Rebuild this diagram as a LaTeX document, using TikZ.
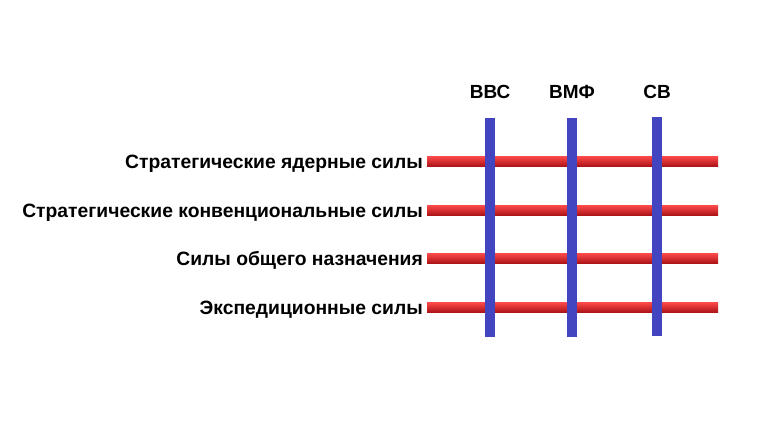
\documentclass[tikz,border=0pt]{standalone}
\usepackage{fontspec}
\setmainfont{Liberation Sans}
\usepackage{tikz}
\definecolor{barred}{RGB}{245,45,50}
\definecolor{barredlight}{RGB}{255,75,75}
\definecolor{barreddark}{RGB}{175,20,25}
\definecolor{barblue}{RGB}{66,68,192}
\newcommand{\redbar}[1]{\shade[top color=barredlight, middle color=barred, bottom color=barreddark] ( 427 , #1-5 ) rectangle ( 718 , #1+5 );}
\newcommand{\bluebar}[3]{\fill[barblue] ( #1-5 , #2 ) rectangle ( #1+5 , #3 );}

\begin{document}
\begin{tikzpicture}[x=1pt, y=-1pt, font=\bfseries]
        \useasboundingbox (0,0) rectangle (770,432);
        % rows
        \redbar{161}
        \redbar{210}
        \redbar{258}
        \redbar{307}
        % columns
        \bluebar{490}{118}{337}
        \bluebar{572}{118}{337}
        \bluebar{657}{117}{336}
        % column titles
        \node[font=\fontsize{19}{21}\selectfont\bfseries] (vvs) at (490,92) {ВВС};
        \node[font=\fontsize{19}{21}\selectfont\bfseries] (vmf) at (572,92) {ВМФ};
        \node[font=\fontsize{19}{21}\selectfont\bfseries] (sv) at (657,92) {СВ};
        % row titles
        \node[anchor=base east, inner sep=0pt, font=\fontsize{19.3}{21}\selectfont\bfseries] (snf) at (423,168) {Стратегические ядерные силы};
        \node[anchor=base east, inner sep=0pt, font=\fontsize{19.3}{21}\selectfont\bfseries] (scf) at (423,217) {Стратегические конвенциональные силы};
        \node[anchor=base east, inner sep=0pt, font=\fontsize{19.3}{21}\selectfont\bfseries] (gpf) at (423,265) {Силы общего назначения};
        \node[anchor=base east, inner sep=0pt, font=\fontsize{19.3}{21}\selectfont\bfseries] (ef) at (423,314) {Экспедиционные силы};
    \end{tikzpicture}
\end{document}
